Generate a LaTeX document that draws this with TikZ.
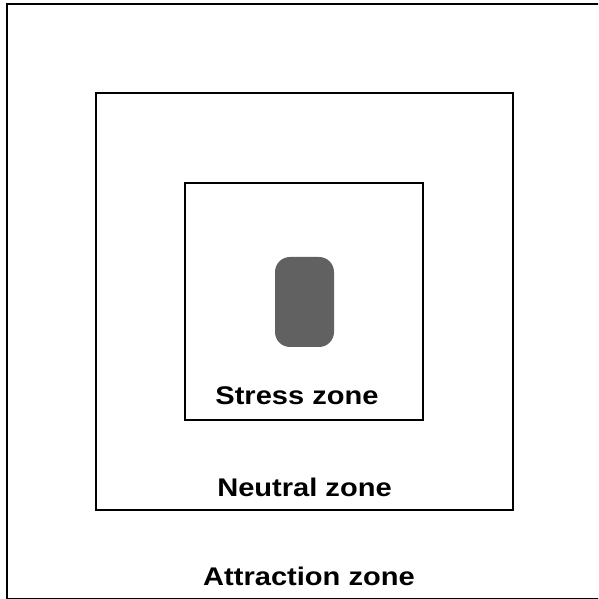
\documentclass[tikz,border=0pt]{standalone}
\usepackage{fontspec}
\setmainfont{Liberation Sans}
\begin{document}
\begin{tikzpicture}[x=1pt,y=1pt,
  zonebox/.style={draw=black,line width=1.2pt,fill=none,inner sep=0pt,outer sep=0pt},
  zonelabel/.style={font=\fontsize{25.5}{30}\selectfont\bfseries,anchor=base,inner sep=0pt,xscale=1.14,transform shape},
  blob/.style={fill=black!62,draw=none,rounded corners=15pt,inner sep=0pt,outer sep=0pt}]
\useasboundingbox (0,0) rectangle (598,599);
\clip (0,0) rectangle (598,599);
\node[zonebox,minimum width=600pt,minimum height=594.6pt,anchor=south west] (attraction) at (7,0.4) {};
\node[zonebox,minimum width=417pt,minimum height=417pt,anchor=south west] (neutral) at (96,89) {};
\node[zonebox,minimum width=238pt,minimum height=237pt,anchor=south west] (stress) at (185,179) {};
\node[blob,minimum width=59pt,minimum height=90pt,anchor=south west] (core) at (275,252) {};
\node[zonelabel] (stresslabel) at (297,194.5) {Stress zone};
\node[zonelabel] (neutrallabel) at (304.5,102) {Neutral zone};
\node[zonelabel] (attractionlabel) at (309,13) {Attraction zone};
\end{tikzpicture}
\end{document}
